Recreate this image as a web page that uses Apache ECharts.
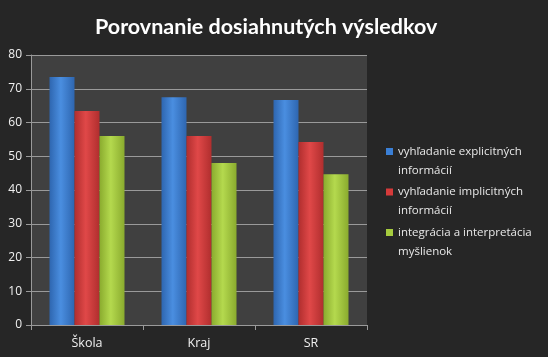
<!DOCTYPE html>
<html><head><meta charset="utf-8">
<script src="https://cdn.jsdelivr.net/npm/echarts@6/dist/echarts.min.js"></script>
<style>html,body{margin:0;padding:0;background:#262626}#c{width:548px;height:357px}</style>
</head><body><div id="c"></div>
<script>
const categories = ['Škola', 'Kraj', 'SR'];
const seriesNames = ['vyhľadanie explicitných\ninformácií', 'vyhľadanie implicitných\ninformácií', 'integrácia a interpretácia\nmyšlienok'];
const explicitVals = [73.5, 67.5, 66.7];
const implicitVals = [63.4, 56, 54.2];
const integrVals = [56, 48, 44.7];
const yTicks = [0, 10, 20, 30, 40, 50, 60, 70, 80];

function grad(dark, light) {
  return new echarts.graphic.LinearGradient(0, 0, 1, 0, [
    {offset: 0, color: dark}, {offset: 0.45, color: light}, {offset: 1, color: dark}
  ]);
}
const colors = [
  grad('#2e66b0', '#4a8ee0'),
  grad('#b02e2e', '#e04848'),
  grad('#8aab2e', '#b4d94e')
];
const legendColors = ['#3a7fd6', '#d63a3a', '#a6cc3e'];
const data = [explicitVals, implicitVals, integrVals];
const legendIcon = 'path://M0,0L7,0L7,7L0,7Z M0,26L7,26L7,26.01L0,26.01Z';

const chart = echarts.init(document.getElementById('c'));
chart.setOption({
  backgroundColor: '#262626',
  animation: false,
  title: {
    text: 'Porovnanie dosiahnutých výsledkov',
    left: 90, top: 11,
    textStyle: {color: '#ffffff', fontFamily: 'Lato', fontWeight: 'bold', fontSize: 21.5}
  },
  grid: {left: 31, right: 181, top: 55, bottom: 32, show: true, backgroundColor: '#404040', borderWidth: 0},
  legend: {
    orient: 'vertical', left: 386, top: 142, padding: 0,
    itemWidth: 7, itemHeight: 26.01, itemGap: 2.5,
    icon: legendIcon,
    textStyle: {color: '#e8e8e8', fontFamily: 'Open Sans', fontSize: 11.5, lineHeight: 19},
    data: seriesNames.map((n, i) => ({name: n, itemStyle: {color: legendColors[i]}}))
  },
  xAxis: {
    type: 'category', data: categories,
    axisLine: {lineStyle: {color: '#9a9a9a'}},
    axisTick: {show: true, length: 5, lineStyle: {color: '#9a9a9a'}},
    axisLabel: {color: '#f0f0f0', fontFamily: 'Open Sans', fontSize: 12.5, margin: 12}
  },
  yAxis: {
    type: 'value', min: 0, max: 80, interval: 10,
    axisLine: {show: true, lineStyle: {color: '#9a9a9a'}},
    axisTick: {show: true, length: 5, lineStyle: {color: '#9a9a9a'}},
    splitLine: {lineStyle: {color: '#9a9a9a'}},
    axisLabel: {color: '#f0f0f0', fontFamily: 'Open Sans', fontSize: 12, margin: 9}
  },
  series: data.map((d, i) => ({
    name: seriesNames[i], type: 'bar', data: d,
    barWidth: 25, barGap: '0%',
    itemStyle: {color: colors[i]}
  }))
});
</script></body></html>
